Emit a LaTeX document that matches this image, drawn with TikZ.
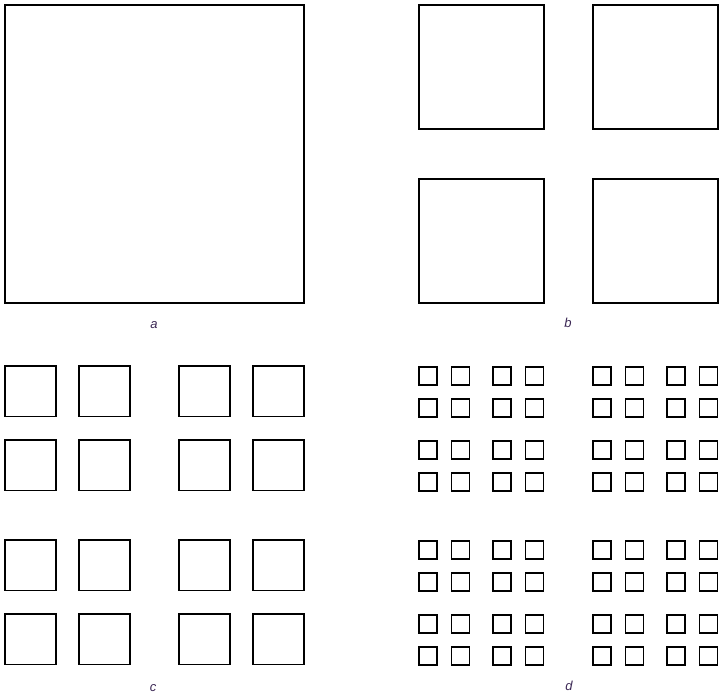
\documentclass[tikz,border=0pt]{standalone}
\usepackage{fontspec}
\setmainfont{Liberation Sans}
\begin{document}
\begin{tikzpicture}[x=1pt,y=-1pt]
\useasboundingbox (0,0) rectangle (719,699);
\definecolor{labcol}{RGB}{60,40,85}
\tikzset{sq/.style={draw=black,line width=1.3pt},
         lab/.style={text=labcol,font=\fontsize{13}{15}\selectfont\itshape,inner sep=0pt}}
% panel a
\draw[sq] (5,5) rectangle (304,303);
% panel b
\foreach \i in {0,174}{\foreach \j in {0,174}{
  \draw[sq] ({419+\i},{5+\j}) rectangle ++(125,124);
}}
% panel c
\foreach \i in {0,174}{\foreach \j in {0,174}{
 \foreach \k in {0,74}{\foreach \l in {0,74}{
  \draw[sq] ({5+\i+\k},{366+\j+\l}) rectangle ++(51,50.5);
}}}}
% panel d
\foreach \i in {0,174}{\foreach \j in {0,174}{
 \foreach \k in {0,74}{\foreach \l in {0,74}{
  \foreach \m in {0,32.5}{\foreach \n in {0,32}{
  \draw[sq] ({419+\i+\k+\m},{367+\j+\l+\n}) rectangle ++(18,18);
}}}}}}
\node[lab] (la) at (154,325) {a};
\node[lab] (lb) at (568,323) {b};
\node[lab] (lc) at (153,688) {c};
\node[lab] (ld) at (569,686) {d};
\end{tikzpicture}
\end{document}
